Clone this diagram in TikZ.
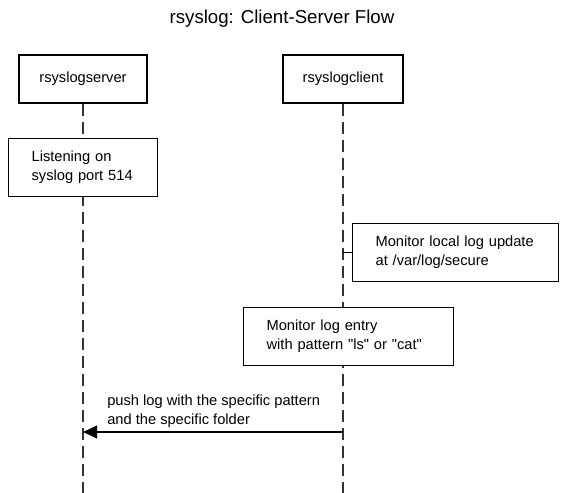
\documentclass[tikz,border=0pt]{standalone}
\usepackage{fontspec}
\setmainfont{Liberation Sans}
\usetikzlibrary{arrows.meta,positioning,backgrounds}

\begin{document}
\begin{tikzpicture}[x=0.75pt,y=-0.75pt,font=\fontsize{11}{14.25}\selectfont,
  actor/.style={draw,line width=2pt,fill=white,minimum width=#1,minimum height=36pt,inner sep=0pt},
  actor/.default=96pt,
  note/.style={draw,line width=0.9pt,fill=white,align=left,anchor=north west,
    inner xsep=17.25pt,minimum height=43.5pt,text width=#1},
  life/.style={line width=1pt,dash pattern=on 9pt off 4.5pt,draw=black!80},
  msg/.style={line width=1pt,-{Triangle[length=10.5pt,width=9.5pt]}}]
  \useasboundingbox (0,0) rectangle (565,493);
  \node[font=\fontsize{14}{16}\selectfont] (title) at (282,19) {rsyslog: Client-Server Flow};
  \node[actor=96pt] (srv) at (83,79) {rsyslogserver};
  \node[actor=90pt] (cli) at (343,79) {rsyslogclient};
  \coordinate (srvend) at (83,493);
  \coordinate (cliend) at (343,493);
  \node[note=77.25pt] (listen) at (8,138) {Listening on\\syslog port 514};
  \node[note=120pt] (local) at (352,223) {Monitor local log update\\at /var/log/secure};
  \node[note=123pt] (entry) at (243,307) {Monitor log entry\\with pattern \textquotedbl ls\textquotedbl{} or \textquotedbl cat\textquotedbl};
  \begin{scope}[on background layer]
    \draw[life] (srv.south) -- (srvend);
    \draw[life] (cli.south) -- (cliend);
  \end{scope}
  \draw[line width=0.9pt] (cli.south |- local.west) -- (local.west);
  \coordinate (pushfrom) at (343,432);
  \draw[msg] (pushfrom) -- (srvend |- pushfrom);
  \node[anchor=south west,align=left,inner sep=0pt] (pushtxt) at (107,428) {push log with the specific pattern\\and the specific folder};
\end{tikzpicture}
\end{document}
